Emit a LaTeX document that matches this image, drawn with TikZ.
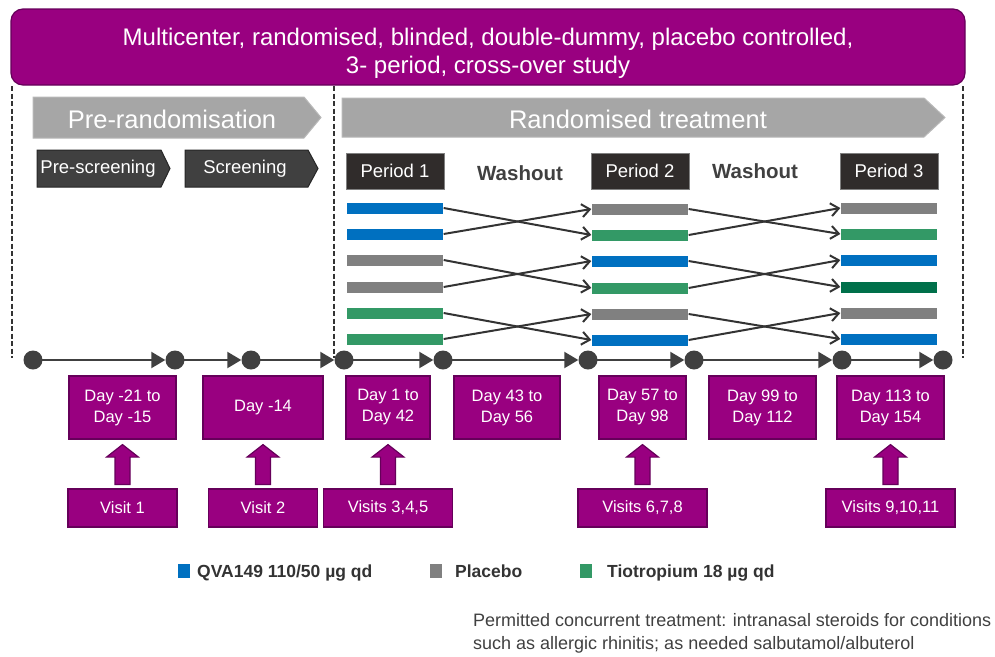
\documentclass[tikz,border=0pt]{standalone}
\usepackage{fontspec}
\setmainfont{Liberation Sans}
\usetikzlibrary{arrows.meta,calc}
\definecolor{purp}{HTML}{990080}
\definecolor{purpdark}{HTML}{66005A}
\definecolor{qblue}{HTML}{0070C0}
\definecolor{qgray}{HTML}{808080}
\definecolor{qgreen}{HTML}{339966}
\definecolor{qdgreen}{HTML}{00704A}
\definecolor{lgray}{HTML}{A6A6A6}
\definecolor{dgray}{HTML}{404040}
\definecolor{tline}{HTML}{404040}
\tikzset{
  banner/.style={fill=purp,draw=purpdark,line width=1.2pt,rounded corners=12pt,inner sep=0pt},
  bannertxt/.style={text=white,align=center,font=\fontsize{24}{28}\selectfont,inner sep=0pt},
  phase/.style={fill=lgray,draw=lgray!80!white,line width=1pt},
  phasetxt/.style={text=white,font=\fontsize{25.5}{28}\selectfont,inner sep=0pt},
  subphase/.style={fill=dgray,draw=black!85,line width=1pt},
  subtxt/.style={text=white,font=\fontsize{18.5}{21}\selectfont,inner sep=0pt},
  periodbox/.style={fill=black!90!yellow!60!black,draw=gray,line width=1pt,text=white,font=\fontsize{18.5}{21}\selectfont,minimum width=98pt,minimum height=36pt,inner sep=0pt},
  washtxt/.style={text=dgray,font=\bfseries\fontsize{20.5}{24}\selectfont,inner sep=0pt},
  bar/.style={minimum width=97pt,minimum height=12pt,inner sep=0pt,draw=white,line width=0.3pt},
  cross/.style={draw=black!80,line width=2pt,-{Straight Barb[length=8pt,width=13pt,line width=2pt]}},
  dot/.style={circle,fill=tline,minimum size=19pt,inner sep=0pt},
  tarrow/.style={draw=tline,line width=2.2pt,-{Triangle[length=14pt,width=16pt]}},
  daybox/.style={fill=purp,draw=purpdark,line width=1.2pt,text=white,align=center,font=\fontsize{16.5}{21}\selectfont,minimum height=63pt,inner sep=0pt},
  visitbox/.style={fill=purp,draw=purpdark,line width=1.2pt,text=white,font=\fontsize{16.5}{20}\selectfont,minimum height=38pt,inner sep=0pt},
  blockup/.style={fill=purp,draw=purpdark,line width=1.2pt},
  dashline/.style={draw=black!80,line width=1.6pt,dash pattern=on 5pt off 2.5pt},
  legsq/.style={minimum width=12pt,minimum height=14pt,inner sep=0pt},
  legtxt/.style={text=black!80,font=\bfseries\fontsize{17.5}{21}\selectfont,inner sep=0pt,anchor=base west},
  notetxt/.style={text=black!75,font=\fontsize{18}{23}\selectfont,align=left,inner sep=0pt,anchor=north west}
}
\begin{document}
\begin{tikzpicture}[x=1pt,y=-1pt]
\useasboundingbox (0,0) rectangle (995,656);

% title banner
\node[banner,minimum width=954pt,minimum height=76pt] (title) at (488,47) {};
\node[bannertxt] (titletxt) at (488,53) {Multicenter, randomised, blinded, double-dummy, placebo controlled,\\3- period, cross-over study};

% dashed separators
\coordinate (dA1) at (12,86); \coordinate (dA2) at (12,358);
\coordinate (dB1) at (334,86); \coordinate (dB2) at (334,358);
\coordinate (dC1) at (963,86); \coordinate (dC2) at (963,358);
\draw[dashline] (dA1) -- (dA2);
\draw[dashline] (dB1) -- (dB2);
\draw[dashline] (dC1) -- (dC2);

% phase arrows
\path[phase] (33,97) -- (304,97) -- (321,117.5) -- (304,138) -- (33,138) -- cycle;
\node[phasetxt] (prerand) at (172,119) {Pre-randomisation};
\path[phase] (342,98) -- (924,98) -- (945,117.5) -- (924,137) -- (342,137) -- cycle;
\node[phasetxt] (randtr) at (638,119) {Randomised treatment};

% sub phases
\path[subphase] (37,150) -- (161,150) -- (170,168.5) -- (161,187) -- (37,187) -- cycle;
\node[subtxt] (presc) at (98,169) {Pre-screening};
\path[subphase] (185,150) -- (308,150) -- (318,168.5) -- (308,187) -- (185,187) -- cycle;
\node[subtxt] (scr) at (245,169) {Screening};

% periods
\node[periodbox] (p1) at (395,171) {Period 1};
\node[periodbox] (p2) at (640,171) {Period 2};
\node[periodbox] (p3) at (889,171) {Period 3};
\node[washtxt] (w1) at (520,173) {Washout};
\node[washtxt] (w2) at (755,171) {Washout};

% treatment bars
\foreach \i/\y/\ca/\cb/\cc in {1/208/qblue/qgray/qgray,2/234/qblue/qgreen/qgreen,3/260/qgray/qblue/qblue,4/287/qgray/qgreen/qdgreen,5/313/qgreen/qgray/qgray,6/339/qgreen/qblue/qblue}{
  \node[bar,fill=\ca] (a\i) at (395,\y) {};
  \node[bar,fill=\cb] (b\i) at (640,\y+1) {};
  \node[bar,fill=\cc] (c\i) at (889,\y) {};
}
\foreach \s/\t in {1/2,2/1,3/4,4/3,5/6,6/5}{
  \draw[cross] (a\s.east) -- (b\t.west);
  \draw[cross] (b\s.east) -- (c\t.west);
}

% timeline
\foreach \n/\x in {1/33,2/175,3/251,4/344,5/443,6/588,7/694,8/842,9/943}{
  \node[dot] (t\n) at (\x,360) {};
}
\foreach \s/\t in {1/2,2/3,3/4,4/5,5/6,6/7,7/8,8/9}{
  \draw[tarrow] (t\s.center) -- (t\t.west);
}

% day boxes
\node[daybox,minimum width=107pt] (d1) at (122.5,407.5) {Day -21 to\\Day -15};
\node[daybox,minimum width=120pt] (d2) at (263,407.5) {Day -14};
\node[daybox,minimum width=84pt] (d3) at (388,407.5) {Day 1 to\\Day 42};
\node[daybox,minimum width=106pt] (d4) at (507,407.5) {Day 43 to\\Day 56};
\node[daybox,minimum width=87pt] (d5) at (642.5,407.5) {Day 57 to\\Day 98};
\node[daybox,minimum width=107pt] (d6) at (762.5,407.5) {Day 99 to\\Day 112};
\node[daybox,minimum width=107pt] (d7) at (890.5,407.5) {Day 113 to\\Day 154};

% visit boxes
\node[visitbox,minimum width=109pt] (v1) at (122.5,508) {Visit 1};
\node[visitbox,minimum width=109pt] (v2) at (263,508) {Visit 2};
\node[visitbox,minimum width=129pt] (v3) at (388,508) {Visits 3,4,5};
\node[visitbox,minimum width=129pt] (v4) at (642.5,508) {Visits 6,7,8};
\node[visitbox,minimum width=129pt] (v5) at (890.5,508) {Visits 9,10,11};

% block arrows from visits to day boxes
\foreach \v/\d in {v1/d1,v2/d2,v3/d3,v4/d5,v5/d7}{
  \path[blockup] let \p1=(\d.south), \p2=(\v.north) in
    (\x1-7.5,\y2+4) -- (\x1-7.5,\y1-17.5) -- (\x1-16,\y1-17.5) -- (\x1,\y1-5) --
    (\x1+16,\y1-17.5) -- (\x1+7.5,\y1-17.5) -- (\x1+7.5,\y2+4) -- cycle;
}

% legend
\node[legsq,fill=qblue] (lq1) at (184,571) {};
\node[legtxt] (lt1) at (197,577.5) {QVA149 110/50 µg qd};
\node[legsq,fill=qgray] (lq2) at (436,571) {};
\node[legtxt] (lt2) at (455,577.5) {Placebo};
\node[legsq,fill=qgreen] (lq3) at (586,571) {};
\node[legtxt] (lt3) at (607,577.5) {Tiotropium 18 µg qd};

% note
\node[notetxt] (note) at (473,613) {Permitted concurrent treatment: intranasal steroids for conditions\\such as allergic rhinitis; as needed salbutamol/albuterol};
\end{tikzpicture}
\end{document}
